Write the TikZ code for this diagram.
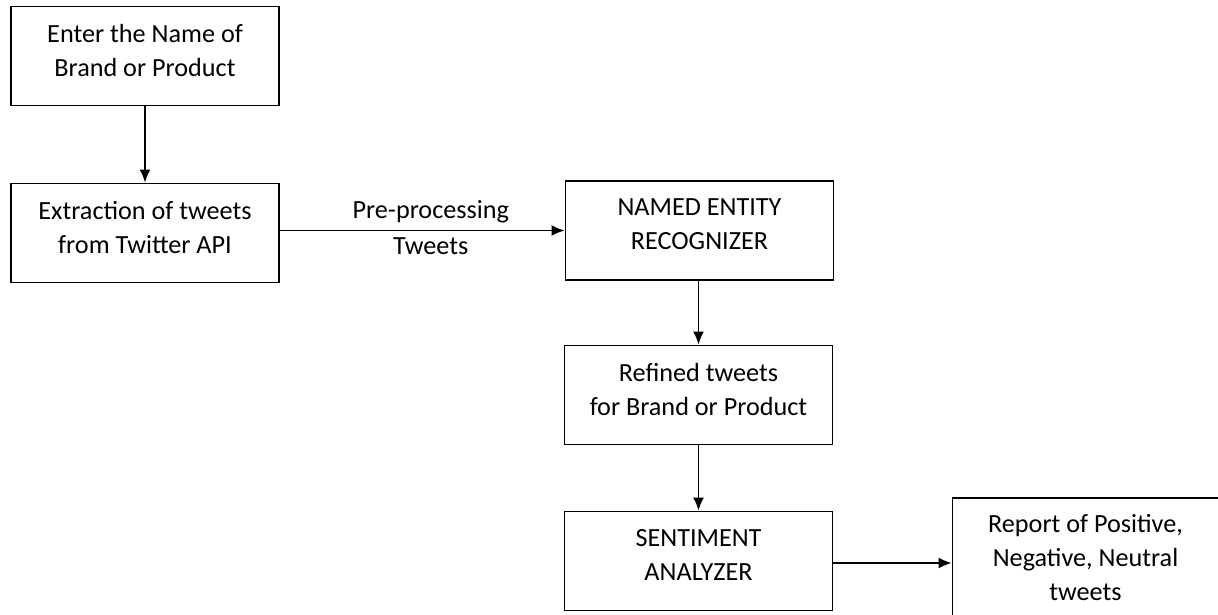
\documentclass[tikz,border=0pt]{standalone}
\usepackage{fontspec}
\setmainfont{Carlito}
\usetikzlibrary{arrows.meta, positioning}
\tikzstyle{block}=[draw,fill=white,rectangle,line width=1.8pt,minimum width=268pt,minimum height=99pt,align=center,text depth=12pt]
\tikzstyle{every node}=[font=\fontsize{26.2}{34}\selectfont]

\begin{document}
\begin{tikzpicture}[x=1pt,y=-1pt,node distance=177pt,>={Latex[length=13pt,width=11pt]},line width=1.8pt]
    \useasboundingbox (0,0) rectangle (1218,615);
    \node[block] (name) at (145,56) {Enter the Name of\\Brand or Product};
    \node[block, below of=name] (extract) {Extraction of tweets\\from Twitter API};
    \node[block, right of=extract, node distance=554.5pt, yshift=2.5pt] (ner) {NAMED ENTITY\\RECOGNIZER};
    \node[block, below of=ner, node distance=164.5pt, xshift=-1pt] (refined) {Refined tweets\\for Brand or Product};
    \node[block, below of=refined, node distance=166pt] (senti) {SENTIMENT\\ANALYZER};
    \node[block, right of=senti, node distance=387pt, yshift=-2pt, minimum width=266pt, minimum height=130pt] (report) {Report of Positive,\\Negative, Neutral\\tweets};
    \draw[->] (name) -- (extract);
    \draw[->] (extract.east |- ner) -- node[above, pos=0.53, inner sep=7pt] {Pre-processing} node[below, pos=0.53, inner sep=6pt] {Tweets} (ner.west);
    \draw[->] (ner.south -| refined) -- (refined);
    \draw[->] (refined) -- (senti);
    \draw[->] (senti.east |- report) -- (report.west);
\end{tikzpicture}
\end{document}
